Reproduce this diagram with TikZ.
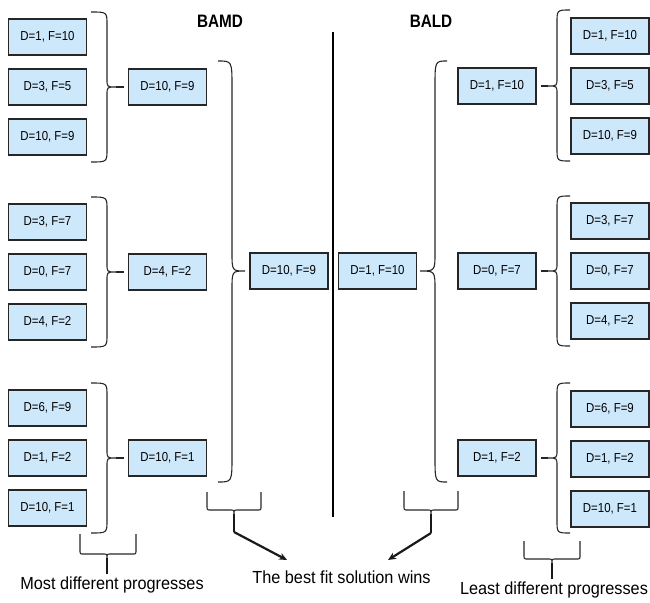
\documentclass[tikz,border=0pt]{standalone}
\usepackage{fontspec}
\setmainfont{Liberation Sans}
\newfontfamily\boxfont[FakeStretch=0.88]{Liberation Sans}
\newfontfamily\titlefont[FakeStretch=0.85]{Liberation Sans}
\newfontfamily\notefont[FakeStretch=0.93]{Liberation Sans}
\usetikzlibrary{arrows.meta,calc}

\definecolor{boxfill}{RGB}{205,231,251}

\tikzset{
  valbox/.style={draw=black!85, line width=1.3pt, fill=boxfill,
    minimum width=78pt, minimum height=36pt, inner sep=0pt,
    font={\boxfont\fontsize{13}{15}\selectfont}},
  bracestyle/.style={line width=1.1pt, draw=black!85},
  stemline/.style={line width=2.2pt, draw=black!90},
  winarrow/.style={line width=2.2pt, draw=black!90,
    -{Stealth[length=8pt,width=7pt]}},
  titletext/.style={font={\titlefont\bfseries\fontsize{18}{20}\selectfont}},
  notetext/.style={anchor=base, inner sep=0pt,
    font={\notefont\fontsize{17.5}{20}\selectfont}},
}

% curly brace: end x, spine x, tip x, top y, tip y, bottom y, hook, tip half-height, tip name
\newcommand\BraceShape[9]{%
  \draw[bracestyle] (#1,#4) .. controls (#2,#4) .. (#2,#4+#7)
    -- (#2,#5-#8) .. controls (#2,#5) .. (#3,#5) coordinate (#9)
    .. controls (#2,#5) .. (#2,#5+#8) -- (#2,#6-#7)
    .. controls (#2,#6) .. (#1,#6);}

% bracket opening upwards with a prong: left x, right x, top y, base y, prong x, prong name
\newcommand\UnderBracket[6]{%
  \draw[bracestyle] (#1,#3) -- (#1,#4-4) .. controls (#1,#4) .. (#1+4,#4)
    -- (#5-4,#4) .. controls (#5,#4) .. (#5,#4+4) coordinate (#6)
    .. controls (#5,#4) .. (#5+4,#4) -- (#2-4,#4)
    .. controls (#2,#4) .. (#2,#4-4) -- (#2,#3);}

\begin{document}
\begin{tikzpicture}[x=1pt,y=-1pt]
\useasboundingbox (0,0) rectangle (650,602);

% titles and divider
\node[titletext] (bamd) at (220,21) {BAMD};
\node[titletext] (bald) at (431,21) {BALD};
\coordinate (divtop) at (333,32);
\coordinate (divbot) at (333,517);
\draw[line width=2.6pt] (divtop) -- (divbot);

% ---------- BAMD side ----------
% group 1
\node[valbox] (L11) at (47.5,37) {D=1, F=10};
\node[valbox] (L12) at (47.5,87) {D=3, F=5};
\node[valbox] (L13) at (47.5,137) {D=10, F=9};
\node[valbox] (ML1) at (167.5,87) {D=10, F=9};
\BraceShape{91}{107}{116}{12}{87}{162}{13}{8}{tL1}
\draw[bracestyle] (tL1) -- ($(ML1.west)+(-4,0)$);
% group 2
\node[valbox] (L21) at (47.5,222) {D=3, F=7};
\node[valbox] (L22) at (47.5,272) {D=0, F=7};
\node[valbox] (L23) at (47.5,322) {D=4, F=2};
\node[valbox] (ML2) at (167.5,272) {D=4, F=2};
\BraceShape{91}{107}{116}{197}{272}{347}{13}{8}{tL2}
\draw[bracestyle] (tL2) -- ($(ML2.west)+(-4,0)$);
% group 3
\node[valbox] (L31) at (47.5,408) {D=6, F=9};
\node[valbox] (L32) at (47.5,458) {D=1, F=2};
\node[valbox] (L33) at (47.5,508) {D=10, F=1};
\node[valbox] (ML3) at (167.5,458) {D=10, F=1};
\BraceShape{91}{107}{116}{383}{458}{533}{13}{8}{tL3}
\draw[bracestyle] (tL3) -- ($(ML3.west)+(-4,0)$);
% winner
\node[valbox] (CL) at (289,271) {D=10, F=9};
\BraceShape{218}{232}{245}{61}{271}{482}{26}{19}{tCL}

% ---------- BALD side ----------
% group 1
\node[valbox] (R11) at (610,36) {D=1, F=10};
\node[valbox] (R12) at (610,86) {D=3, F=5};
\node[valbox] (R13) at (610,136) {D=10, F=9};
\node[valbox] (MR1) at (497,86) {D=1, F=10};
\BraceShape{570}{557}{548}{10}{86}{161}{13}{8}{tR1}
\draw[bracestyle] (tR1) -- ($(MR1.east)+(4,0)$);
% group 2
\node[valbox] (R21) at (610,221) {D=3, F=7};
\node[valbox] (R22) at (610,271) {D=0, F=7};
\node[valbox] (R23) at (610,321) {D=4, F=2};
\node[valbox] (MR2) at (497,271) {D=0, F=7};
\BraceShape{570}{557}{548}{196}{271}{346}{13}{8}{tR2}
\draw[bracestyle] (tR2) -- ($(MR2.east)+(4,0)$);
% group 3
\node[valbox] (R31) at (610,409) {D=6, F=9};
\node[valbox] (R32) at (610,459) {D=1, F=2};
\node[valbox] (R33) at (610,509) {D=10, F=1};
\node[valbox] (MR3) at (497,458) {D=1, F=2};
\BraceShape{570}{557}{548}{383}{458}{533}{13}{8}{tR3}
\draw[bracestyle] (tR3) -- ($(MR3.east)+(4,0)$);
% winner
\node[valbox] (CR) at (377.5,271) {D=1, F=10};
\BraceShape{447}{435}{420}{61}{271}{482}{26}{19}{tCR}

% ---------- captions ----------
\node[notetext] (most) at (112,589) {Most different progresses};
\node[notetext] (best) at (341.5,583) {The best fit solution wins};
\node[notetext] (least) at (554,594) {Least different progresses};

% brackets over the captions
\UnderBracket{80}{136}{534}{554}{107}{pMost}
\draw[stemline] (pMost) -- ($(most.north)+(-5,-2)$);
\UnderBracket{524}{580}{541}{559}{552}{pLeast}
\draw[stemline] (pLeast) -- ($(least.north)+(-2,-2)$);

% winners point to the caption
\UnderBracket{207}{261}{492}{510}{234}{pBestL}
\coordinate (kBestL) at (234,532);
\coordinate (hBestL) at (287,560);
\draw[stemline] (pBestL) -- (kBestL);
\draw[winarrow] (kBestL) -- (hBestL);
\UnderBracket{404}{458}{491}{510}{431}{pBestR}
\coordinate (kBestR) at (431,533);
\coordinate (hBestR) at (388,560);
\draw[stemline] (pBestR) -- (kBestR);
\draw[winarrow] (kBestR) -- (hBestR);
\end{tikzpicture}
\end{document}
